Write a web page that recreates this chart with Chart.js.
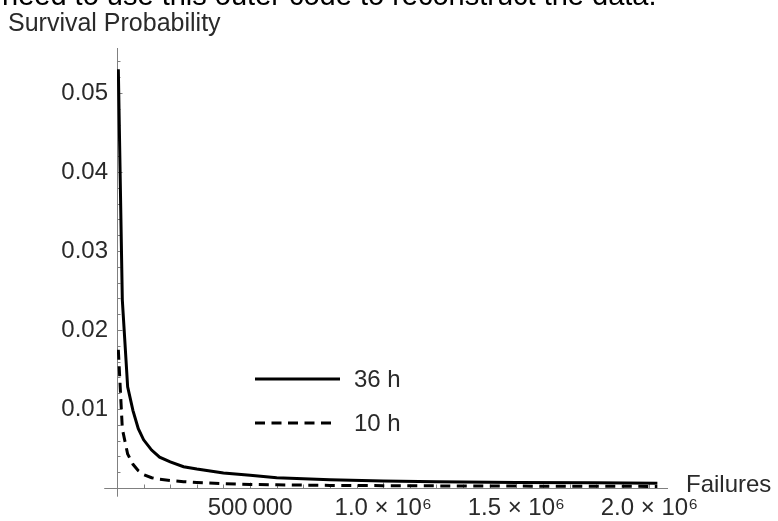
<!DOCTYPE html>
<html>
<head>
<meta charset="utf-8">
<script src="https://cdn.jsdelivr.net/npm/chart.js@4.4.1/dist/chart.umd.min.js"></script>
<style>
  html, body { margin: 0; padding: 0; background: #fff; overflow: hidden; }
  #wrap { position: relative; width: 778px; height: 521px; overflow: hidden; }
  #wrap canvas { position: absolute; left: 0; top: 0; }
  .txt { position: absolute; font-family: "Liberation Sans", Arial, Helvetica, sans-serif; white-space: nowrap; line-height: 1; }
  #cut { left: 2px; top: -19px; font-size: 29px; color: #000; }
  #ylab { left: 8px; top: 10px; font-size: 25px; color: #2a2a2a; }
  #xlab { left: 686px; top: 472px; font-size: 24px; color: #2a2a2a; }
</style>
</head>
<body>
<div id="wrap">
  <canvas id="c" width="778" height="521"></canvas>
  <div class="txt" id="cut">need to use this outer code to reconstruct the data.</div>
  <div class="txt" id="ylab">Survival Probability</div>
  <div class="txt" id="xlab">Failures</div>
</div>
<script>
// ---- data ----
const failures = [5000, 20000, 40000, 60000, 80000, 100000, 130000, 160000, 200000, 250000,
                  300000, 400000, 500000, 600000, 800000, 1000000, 1200000, 1500000, 1800000, 2030000];
const surv36h = [0.053, 0.0238, 0.0128, 0.0098, 0.0075, 0.0061, 0.0048, 0.0039, 0.0033, 0.0027,
                 0.0024, 0.0019, 0.0016, 0.0013, 0.00105, 0.0009, 0.0008, 0.0007, 0.00065, 0.0006];
const surv10h = [0.0175, 0.0075, 0.0043, 0.003, 0.0022, 0.0017, 0.0013, 0.0011, 0.00095, 0.0008,
                 0.0007, 0.00055, 0.00045, 0.0004, 0.00033, 0.0003, 0.00027, 0.00024, 0.00022, 0.0002];
const seriesLabels = ['36 h', '10 h'];
const yTickValues = [0.01, 0.02, 0.03, 0.04, 0.05];
const yTickLabels = ['0.01', '0.02', '0.03', '0.04', '0.05'];
const xTickValues = [500000, 1000000, 1500000, 2000000];
const xTickLabels = ['500\u2009000', '1.0 \u00d7 10\u2076', '1.5 \u00d7 10\u2076', '2.0 \u00d7 10\u2076'];

const FONT = '"Liberation Sans", Arial, Helvetica, sans-serif';
const AXIS_COLOR = '#808080';
const TEXT_COLOR = '#2a2a2a';
const X_AXIS_END = 2070000;

function findLabel(vals, labels, v, tol) {
  for (let i = 0; i < vals.length; i++) if (Math.abs(vals[i] - v) < tol) return labels[i];
  return '';
}

const axesPlugin = {
  id: 'mmaAxes',
  beforeDatasetsDraw(chart) {
    const ctx = chart.ctx;
    const xs = chart.scales.x, ys = chart.scales.y;
    const x0 = xs.getPixelForValue(0), y0 = ys.getPixelForValue(0);
    ctx.save();
    ctx.strokeStyle = AXIS_COLOR;
    ctx.lineWidth = 1;
    ctx.beginPath();
    // x axis
    ctx.moveTo(xs.getPixelForValue(-48000), Math.round(y0) + 0.5);
    ctx.lineTo(xs.getPixelForValue(X_AXIS_END), Math.round(y0) + 0.5);
    // y axis
    ctx.moveTo(Math.round(x0) + 0.5, ys.getPixelForValue(-0.0011));
    ctx.lineTo(Math.round(x0) + 0.5, ys.top);
    ctx.stroke();
    // ticks
    ctx.beginPath();
    ys.ticks.forEach(t => {
      if (Math.abs(t.value) < 1e-9) return;
      const p = Math.round(ys.getPixelForValue(t.value)) + 0.5;
      const major = findLabel(yTickValues, yTickLabels, t.value, 1e-6) !== '';
      ctx.moveTo(x0, p);
      ctx.lineTo(x0 + (major ? 5.5 : 3.5), p);
    });
    xs.ticks.forEach(t => {
      if (Math.abs(t.value) < 1 || t.value > X_AXIS_END) return;
      const p = Math.round(xs.getPixelForValue(t.value)) + 0.5;
      const major = findLabel(xTickValues, xTickLabels, t.value, 1) !== '';
      ctx.moveTo(p, y0);
      ctx.lineTo(p, y0 - (major ? 5.5 : 3.5));
    });
    ctx.stroke();
    ctx.restore();
  },
  afterDraw(chart) {
    // legend inside the plot
    const ctx = chart.ctx;
    const rows = [{y: 379}, {y: 423}];
    ctx.save();
    chart.data.datasets.forEach((ds, i) => {
      const y = rows[i].y;
      ctx.strokeStyle = ds.borderColor;
      ctx.lineWidth = ds.borderWidth;
      ctx.setLineDash(ds.borderDash || []);
      ctx.beginPath();
      ctx.moveTo(255, y);
      ctx.lineTo(i === 0 ? 340 : 336, y);
      ctx.stroke();
      ctx.setLineDash([]);
      ctx.fillStyle = TEXT_COLOR;
      ctx.font = '24px ' + FONT;
      ctx.textBaseline = 'middle';
      ctx.textAlign = 'left';
      ctx.fillText(ds.label, 354, y + 1);
    });
    ctx.restore();
  }
};

new Chart(document.getElementById('c'), {
  type: 'line',
  data: {
    datasets: [
      { label: seriesLabels[0], data: failures.map((f, i) => ({x: f, y: surv36h[i]})),
        borderColor: '#000', borderWidth: 3, pointRadius: 0, tension: 0, fill: false },
      { label: seriesLabels[1], data: failures.map((f, i) => ({x: f, y: surv10h[i]})),
        borderColor: '#000', borderWidth: 3, borderDash: [10, 6.5], pointRadius: 0, tension: 0, fill: false }
    ]
  },
  options: {
    responsive: false,
    animation: false,
    layout: { padding: { top: 48, right: 102, left: 0, bottom: 0 } },
    plugins: { legend: { display: false }, tooltip: { enabled: false }, title: { display: false } },
    scales: {
      x: {
        type: 'linear', position: 'bottom', min: 0, max: 2100000,
        grid: { display: false, drawTicks: false }, border: { display: false },
        ticks: {
          stepSize: 100000, includeBounds: false, autoSkip: false, maxRotation: 0, minRotation: 0, padding: 6,
          color: TEXT_COLOR, font: { family: FONT, size: 24 },
          callback: v => findLabel(xTickValues, xTickLabels, v, 1)
        },
        afterFit: s => { s.height = 33; }
      },
      y: {
        type: 'linear', position: 'left', min: 0, max: 0.0557,
        grid: { display: false, drawTicks: false }, border: { display: false },
        ticks: {
          stepSize: 0.002, includeBounds: false, autoSkip: false, padding: 9,
          color: TEXT_COLOR, font: { family: FONT, size: 24 },
          callback: v => findLabel(yTickValues, yTickLabels, v, 1e-6)
        },
        afterFit: s => { s.width = 117; }
      }
    }
  },
  plugins: [axesPlugin]
});
</script>
</body>
</html>
